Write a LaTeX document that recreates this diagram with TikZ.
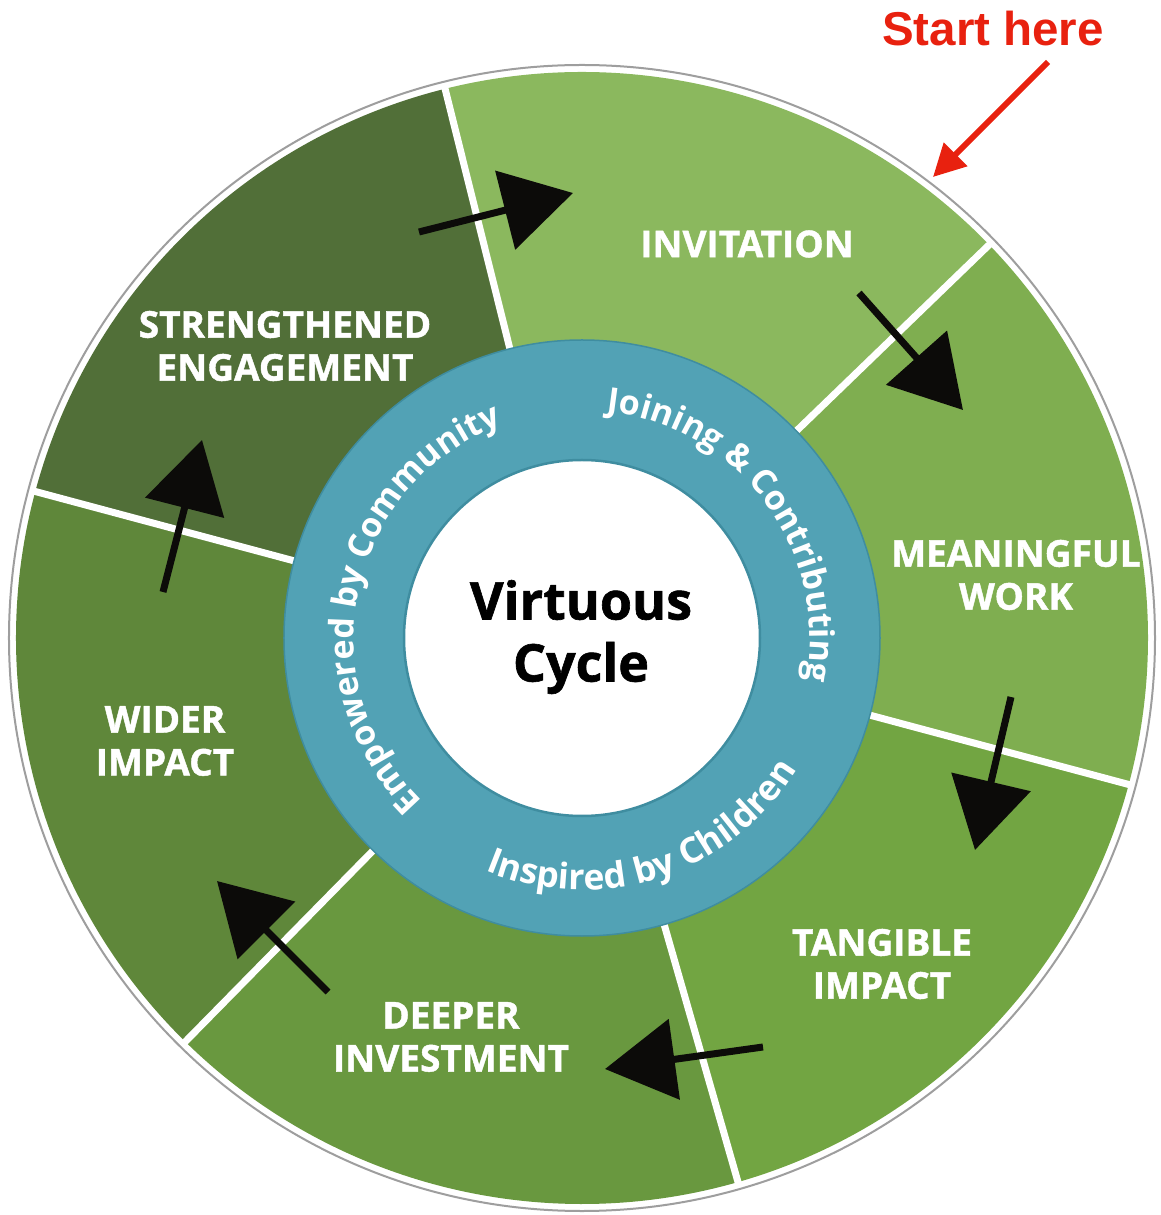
\documentclass[tikz,border=0pt]{standalone}
\usepackage{fontspec}
\setmainfont{Open Sans}
\newfontfamily\heavyfont{Open Sans}[BoldFeatures={FakeBold=1.2}]
\newfontfamily\startfont{Liberation Sans}
\usetikzlibrary{arrows.meta,decorations.text}
\definecolor{cInv}{HTML}{8BB85E}
\definecolor{cMean}{HTML}{7FAE50}
\definecolor{cTang}{HTML}{72A542}
\definecolor{cDeep}{HTML}{69983F}
\definecolor{cWide}{HTML}{5F873A}
\definecolor{cStr}{HTML}{516F38}
\definecolor{cRing}{HTML}{52A2B5}
\definecolor{cRingEdge}{HTML}{3F8DA0}
\definecolor{cArrow}{HTML}{0C0B09}
\definecolor{cRed}{HTML}{E8210F}
\begin{document}
\begin{tikzpicture}[x=1pt,y=1pt,
  seglabel/.style={text=white,font=\heavyfont\bfseries\fontsize{37}{43}\selectfont,align=center},
  flowarrow/.style={draw=cArrow,line width=7pt,-{Triangle[length=70pt,width=80pt]}},
  divider/.style={draw=white,line width=7pt},
  ringtop/.style={decorate,decoration={text along path,text align=center,
     text={|\bfseries\fontsize{34}{36}\selectfont\color{white}|#1}}},
  ringbot/.style={decorate,decoration={text along path,text align=center,
     text={|\bfseries\fontsize{35.5}{36}\selectfont\color{white}|#1}}},
]
\useasboundingbox (-582,-577) rectangle (579,638);
% outer disc
\draw[line width=2pt,draw=black!38,fill=white] (0,0) circle[radius=573];
% sectors
\fill[cInv]  (0,0) -- (44:566)    arc[start angle=44,   end angle=104, radius=566] -- cycle;
\fill[cStr]  (0,0) -- (104:566)   arc[start angle=104,  end angle=165, radius=566] -- cycle;
\fill[cWide] (0,0) -- (165:566)   arc[start angle=165,  end angle=225.5, radius=566] -- cycle;
\fill[cDeep] (0,0) -- (225.5:566) arc[start angle=225.5,end angle=286, radius=566] -- cycle;
\fill[cTang] (0,0) -- (286:566)   arc[start angle=286,  end angle=345, radius=566] -- cycle;
\fill[cMean] (0,0) -- (345:566)   arc[start angle=345,  end angle=404, radius=566] -- cycle;
% dividers
\foreach \a/\n in {44/p,104/q,165/r,225.5/s,286/t,345/u}{
  \coordinate (din\n) at (\a:280);
  \coordinate (dout\n) at (\a:569);
  \draw[divider] (din\n) -- (dout\n);
}
% blue ring and centre
\draw[line width=1.5pt,draw=cRingEdge,fill=cRing] (0,0) circle[radius=298];
\draw[line width=2.5pt,draw=cRingEdge,fill=white] (0,0) circle[radius=178];
% ring texts
\path[ringtop={Empowered by Community}] (248:228) arc[start angle=248,end angle=88,radius=228];
\path[ringtop={Joining {\&} Contributing}] (116.5:228) arc[start angle=116.5,end angle=-43.5,radius=228];
\path[ringbot={Inspired by Children}] (-142:252) arc[start angle=-142,end angle=-2,radius=252];
% centre label
\node[font=\heavyfont\bfseries\fontsize{52}{62}\selectfont,align=center] (vc) at (-1,1) {Virtuous\\Cycle};
% segment labels
\node[seglabel] (inv)  at (165,394)   {INVITATION};
\node[seglabel] (str)  at (-297,292)  {STRENGTHENED\\ENGAGEMENT};
\node[seglabel] (mean) at (434,63)    {MEANINGFUL\\WORK};
\node[seglabel] (tang) at (300,-326)  {TANGIBLE\\IMPACT};
\node[seglabel] (deep) at (-131,-399) {DEEPER\\INVESTMENT};
\node[seglabel] (wide) at (-417,-103) {WIDER\\IMPACT};
% flow arrows
\coordinate (a1s) at (-163,406);  \coordinate (a1e) at (-9,445);
\coordinate (a2s) at (277,345);   \coordinate (a2e) at (381,228);
\coordinate (a3s) at (429,-59);   \coordinate (a3e) at (393,-212);
\coordinate (a4s) at (181,-409);  \coordinate (a4e) at (23,-431);
\coordinate (a5s) at (-254,-354); \coordinate (a5e) at (-365,-243);
\coordinate (a6s) at (-419,46);   \coordinate (a6e) at (-380,198);
\draw[flowarrow] (a1s) -- (a1e);
\draw[flowarrow] (a2s) -- (a2e);
\draw[flowarrow] (a3s) -- (a3e);
\draw[flowarrow] (a4s) -- (a4e);
\draw[flowarrow] (a5s) -- (a5e);
\draw[flowarrow] (a6s) -- (a6e);
% start here
\node[text=cRed,font=\startfont\bfseries\fontsize{47.5}{47.5}\selectfont] (start) at (411,609) {Start here};
\coordinate (rs) at (466,576);
\coordinate (re) at (351,461);
\draw[draw=cRed,line width=6pt,-{Triangle[length=32pt,width=32pt]}] (rs) -- (re);
\end{tikzpicture}
\end{document}
